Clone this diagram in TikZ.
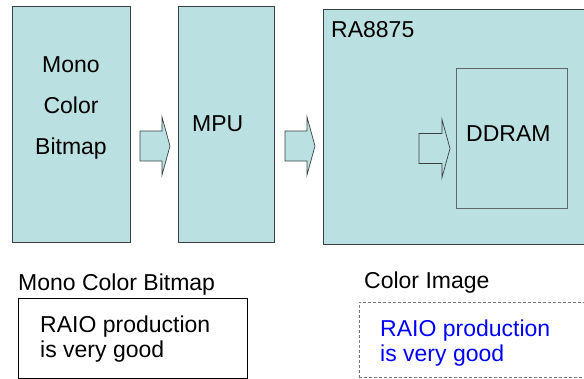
\documentclass[tikz,border=0pt]{standalone}
\usepackage{fontspec}
\setmainfont{Liberation Sans}
\usepackage{xcolor}
\usetikzlibrary{positioning}
\definecolor{cyanpale}{RGB}{187,224,226}
\definecolor{bordgris}{RGB}{58,64,64}
\definecolor{bleu}{RGB}{0,0,255}

\begin{document}
\begin{tikzpicture}[x=1pt, y=-1pt, font=\fontsize{23}{27}\selectfont]
\tikzset{
  bloc/.style={draw=bordgris, fill=cyanpale, line width=0.8pt, inner sep=0pt},
  fleche/.style={draw=bordgris, fill=cyanpale, line width=0.7pt, line join=miter},
  txt/.style={inner sep=0pt, anchor=base west}}
\useasboundingbox (0,0) rectangle (584,379);
% blocs du haut
\node[bloc, minimum width=118pt, minimum height=236pt] (mono) at (71,124) {};
\node[bloc, minimum width=96pt, minimum height=236pt] (mpu) at (226,124) {};
\node[bloc, minimum width=277pt, minimum height=235pt] (ra) at (461.5,126.5) {};
\node[bloc, draw=bordgris!80, minimum width=111pt, minimum height=140pt] (ddram) at (511.5,138) {};
\foreach \mot/\yb [count=\i] in {Mono/73, Color/114, Bitmap/155}
  \node[inner sep=0pt, anchor=base] (m\i) at (71,\yb) {\mot};
\node[txt] (lmpu) at (192,132) {MPU};
\node[txt] (lra) at (331,38) {RA8875};
\node[txt] (lddram) at (466,142) {DDRAM};
% fleches pleines
\foreach \xa/\ya/\la in {140/146/22, 285/146/22, 419/148.5/23}
  \draw[fleche] (\xa,\ya-15) -- ++(\la,0) -- ++(0,-14) -- ++(8,29) -- ++(-8,29)
    -- ++(0,-14) -- ++(-\la,0) -- cycle;
% cadres du bas
\node[txt] (tmono) at (18,291) {Mono Color Bitmap};
\node[draw=black, line width=0.8pt, minimum width=229pt, minimum height=80pt] (cmono) at (132.5,338) {};
\node[txt] (r1) at (40,333) {RAIO production};
\node[txt] (r2) at (40,358) {is very good};
\node[txt] (tcoul) at (364,289) {Color Image};
\node[draw=bordgris!70, line width=0.8pt, dash pattern=on 3pt off 2pt,
  minimum width=241pt, minimum height=75pt] (ccoul) at (479.5,339.5) {};
\node[txt, text=bleu] (b1) at (380,337) {RAIO production};
\node[txt, text=bleu] (b2) at (380,362) {is very good};
\end{tikzpicture}
\end{document}
